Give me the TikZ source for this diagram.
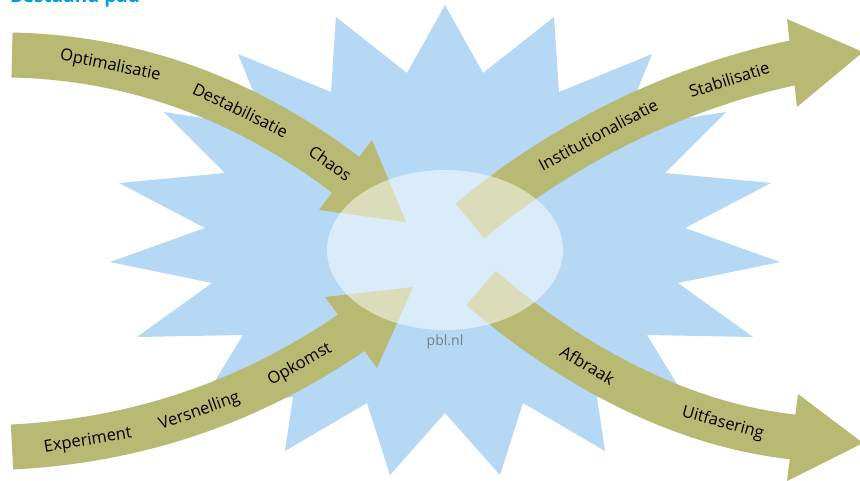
\documentclass[tikz,border=0pt]{standalone}
\usepackage{fontspec}
\setmainfont{Open Sans}
\definecolor{starblue}{RGB}{181,216,245}
\definecolor{arrowolive}{RGB}{184,185,115}
\definecolor{titleblue}{RGB}{0,158,224}
\definecolor{pblgray}{RGB}{120,125,130}
\begin{document}
\begin{tikzpicture}[x=1pt,y=-1pt,
  starshape/.style={fill=starblue},
  shaft/.style={draw=arrowolive,line width=45pt},
  headshape/.style={fill=arrowolive},
  lbl/.style={font=\fontsize{16.5}{18}\selectfont,text=black,sloped,inner sep=0pt},
  core/.style={fill=white,opacity=0.5}]
\useasboundingbox (0,0) rectangle (860,480);
% star
\fill[starshape] (445,5) -- (483,73) -- (554,17) -- (559,92) -- (652,54) -- (622,128)
 -- (726,112) -- (665,173) -- (771,183) -- (685,228) -- (780,262) -- (678,283)
 -- (753,337) -- (647,335) -- (691,407) -- (597,397) -- (605,451) -- (523,403)
 -- (500,475) -- (445,413) -- (390,475) -- (367,403) -- (285,451) -- (293,397)
 -- (199,407) -- (243,335) -- (137,337) -- (212,283) -- (110,262) -- (205,228)
 -- (119,183) -- (225,173) -- (164,112) -- (268,128) -- (238,54) -- (331,92)
 -- (336,17) -- (407,73) -- cycle;
% coordinates
\coordinate (tlS) at (12,55);   \coordinate (tlE) at (346,175); \coordinate (tlX) at (353,180);
\coordinate (trS) at (470,221); \coordinate (trE) at (792,63);  \coordinate (trX) at (800,62);
\coordinate (blS) at (12,447);  \coordinate (blE) at (351,333); \coordinate (blX) at (357,328);
\coordinate (brS) at (481,288); \coordinate (brE) at (794,437); \coordinate (brX) at (802,438);
% shafts
\draw[shaft] (tlS) .. controls (150,58) and (260,110) .. (tlE) -- (tlX);
\draw[shaft] (trS) .. controls (560,145) and (675,88) .. (trE) -- (trX);
\draw[shaft] (blS) .. controls (150,440) and (260,395) .. (blE) -- (blX);
\draw[shaft] (brS) .. controls (570,365) and (680,425) .. (brE) -- (brX);
% heads
\fill[headshape] (372,140) -- (406,222) -- (319,210) -- cycle;
\fill[headshape] (787,19) -- (863,52) -- (797,107) -- cycle;
\fill[headshape] (325,297) -- (413,287) -- (377,368) -- cycle;
\fill[headshape] (798,394) -- (863,443) -- (787,481) -- cycle;
% translucent core
\fill[core] (445,250) ellipse [x radius=118, y radius=80];
% labels
\path (tlS) .. controls (150,58) and (260,110) .. (tlE)
  node[lbl,pos=0.25] (l1) {Optimalisatie}
  node[lbl,pos=0.63] (l2) {Destabilisatie}
  node[lbl,pos=0.94] (l3) {Chaos};
\path (trS) .. controls (560,145) and (675,88) .. (trE)
  node[lbl,pos=0.43] (l4) {Institutionalisatie}
  node[lbl,pos=0.82] (l5) {Stabilisatie};
\path (blS) .. controls (150,440) and (260,395) .. (blE)
  node[lbl,pos=0.19,yshift=-2pt] (l6) {Experiment}
  node[lbl,pos=0.50,yshift=-1pt] (l7) {Versnelling}
  node[lbl,pos=0.82] (l8) {Opkomst};
\path (brS) .. controls (570,365) and (680,425) .. (brE)
  node[lbl,pos=0.37] (l9) {Afbraak}
  node[lbl,pos=0.79] (l10) {Uitfasering};
\node[anchor=base,text=pblgray,font=\fontsize{14}{16}\selectfont,inner sep=0pt] (pbl) at (445,345) {pbl.nl};
\node[anchor=base west,text=titleblue,font=\bfseries\fontsize{19}{22}\selectfont,inner sep=0pt] (title) at (10,2) {Bestaand pad};
\end{tikzpicture}
\end{document}
